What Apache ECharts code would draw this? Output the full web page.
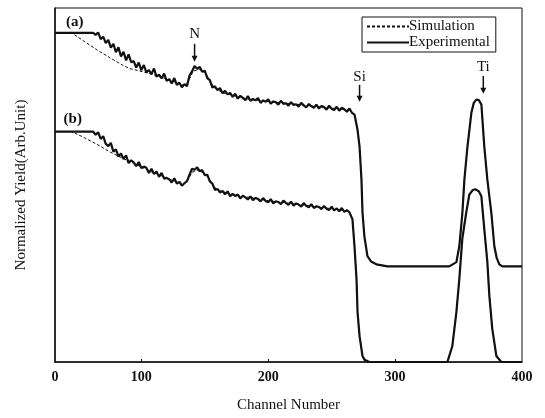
<!DOCTYPE html>
<html>
<head>
<meta charset="utf-8">
<script src="https://cdn.jsdelivr.net/npm/echarts@6/dist/echarts.min.js"></script>
<style>
  html, body { margin: 0; padding: 0; background: #fff; }
  #main { width: 545px; height: 418px; }
</style>
</head>
<body>
<div id="main"></div>
<script>
// channel numbers of the noisy part of the spectra
var expChannels = [62,64,66,68,70,72,74,76,78,80,82,84,86,88,90,92,94,96,98,100,
  102,104,106,108,110,112,114,116,118,120,122,124,126,128,130,132,134,136,138,140,
  142,144,146,148,150,152,154,156,158,160,162,164,166,168,170,172,174,176,178,180,
  182,184,186,188,190,192,194,196,198,200,202,204,206,208,210,212,214,216,218,220,
  222,224,226,228,230,232,234,236,238,240,242,244,246,248,250,252,254,256,258,260,
  262,264];

// (a) experimental, noisy part
var expAValues = [93.0,92.4,93.1,91.2,91.9,90.1,91.0,88.8,89.9,87.5,88.9,86.3,87.6,85.2,86.9,84.7,85.0,83.2,84.6,82.4,
  83.9,81.8,82.5,81.3,82.9,80.6,81.2,80.1,81.5,79.4,79.9,78.7,80.2,78.3,78.9,77.6,78.5,77.9,80.9,82.1,
  83.6,82.8,83.4,82.0,82.3,80.2,79.6,77.5,77.9,76.8,77.4,75.9,76.6,75.6,76.0,74.9,75.8,74.4,75.2,74.6,
  74.0,75.1,73.8,74.3,73.9,74.6,73.2,73.9,73.5,74.2,73.0,73.6,73.4,72.7,73.8,72.9,73.1,72.4,73.4,72.6,
  72.8,72.1,73.2,72.5,71.9,72.9,72.2,71.8,72.7,71.6,72.3,72.0,71.3,72.4,71.5,71.2,72.1,71.0,71.8,71.4,
  70.7,71.6];

// (b) experimental, noisy part
var expBValues = [65.1,64.2,64.9,63.0,63.8,61.6,61.0,61.9,59.4,60.1,58.0,58.9,57.3,58.4,56.2,57.0,56.4,55.3,56.5,54.8,
  55.2,54.9,53.4,54.6,53.1,53.8,52.3,53.4,51.8,52.0,51.6,50.7,51.9,50.4,50.9,49.8,50.5,51.1,52.9,54.6,
  54.3,55.0,53.9,54.2,52.8,52.9,51.0,50.4,48.6,48.9,47.9,48.3,47.4,48.2,46.8,47.5,46.9,47.3,46.2,47.0,
  46.5,45.9,46.8,45.7,46.4,46.0,45.4,46.3,45.5,45.1,46.0,44.8,45.4,45.2,44.6,45.6,44.9,44.4,45.3,44.2,
  44.8,44.5,43.9,44.9,44.1,43.7,44.6,43.5,44.0,43.8,43.2,44.1,43.3,42.9,43.9,42.8,43.4,42.6,43.5,42.4,
  42.9,42.3];

// Si edge + Ti peak, shared by simulation and experiment
var tailA = [[266,70.4],[268,69.9],[270.4,65.6],[272,60.8],[273.5,51.5],[274.3,42.3],[275.8,35.5],
  [278.2,29.9],[281,28.4],[285.3,27.6],[294,27.0],[342.7,27.0],[348.3,28.2],[350.6,32.7],[353,42.0],
  [354.6,51.5],[357,60.8],[360.1,70.4],[362,73.2],[364,74.1],[366,74.0],[368,72.7],[370.3,60.8],
  [372.7,51.5],[375.8,42.3],[378.2,32.7],[380,29.5],[382.1,27.6],[384.5,27.0],[400,27.0]];
var tailB = [[266.4,40.3],[268,32.7],[269.6,23.4],[270.4,14.1],[272,7.3],[274.3,1.7],[276,0.6],
  [279.7,0],[341.2,0],[345.1,4.5],[348.3,14.1],[350.6,23.4],[353,34.9],[356.1,42.3],[358.5,47.3],
  [361,48.5],[363.2,48.8],[366,48.2],[368,46.8],[370.3,37.5],[372.7,28.2],[374.3,18.6],[376.6,9.3],
  [379.8,1.7],[383.7,0],[400,0]];

// simulation, smooth part
var simAHead = [[32,93],[45,93],[55,90.6],[65,88.2],[75,86.0],[85,83.9],[91,82.9],[101,82.0],
  [112,80.9],[122,79.7],[132,78.4],[135,78.2],[138,80.0],[141,82.2],[146,82.6],[150,81.8],
  [154,79.8],[157,77.6],[164,76.1],[175,75.0],[185,74.2],[199,73.6],[209,73.3],[225,72.7],
  [240,72.1],[256,71.5],[264,71.0]];
var simBHead = [[32,65.1],[45,65.1],[55,63.4],[65,61.5],[75,59.4],[85,57.6],[95,56.0],[106,54.0],
  [112,53.2],[120,52.0],[130,50.6],[134,50.4],[137,51.6],[140,53.6],[144,54.2],[148,53.6],
  [152,52.4],[155,50.9],[159,48.8],[170,47.4],[185,46.5],[201,45.5],[209,45.2],[217,44.8],
  [235,44.0],[250,43.3],[262,42.6],[264,42.4]];

var xTicks = [100, 200, 300];
var xLabels = [32, 100, 200, 300, 400];

function zipExp(start, vals, tail) {
  var out = [start];
  for (var i = 0; i < vals.length; i++) out.push([expChannels[i], vals[i]]);
  return out.concat(tail);
}

var expA = zipExp([32, 93.0], expAValues, tailA);
var expB = zipExp([32, 65.1], expBValues, tailB);
var simA = simAHead.concat(tailA);
var simB = simBHead.concat(tailB);

var serif = "Liberation Serif";
var ink = "#111";

var myChart = echarts.init(document.getElementById("main"));

var option = {
  animation: false,
  grid: { left: 55, right: 23, top: 8, bottom: 55, show: true, borderColor: ink, borderWidth: 1 },
  legend: {
    orient: "vertical",
    left: 362, top: 17,
    padding: [2, 6, 2, 4],
    itemGap: 1,
    itemWidth: 42,
    itemHeight: 13,
    borderColor: ink,
    borderWidth: 1,
    itemStyle: { opacity: 0 },
    textStyle: { fontFamily: serif, fontSize: 15, color: ink, padding: [0, 0, 0, -5] },
    data: ["Simulation", "Experimental"]
  },
  xAxis: {
    type: "value",
    min: 32, max: 400,
    name: "Channel Number",
    nameLocation: "middle",
    nameGap: 36,
    nameTextStyle: { fontFamily: serif, fontSize: 15, color: ink },
    axisLine: { lineStyle: { color: ink, width: 1.5 } },
    axisTick: { inside: true, length: 3, customValues: xTicks, lineStyle: { color: ink } },
    axisLabel: {
      customValues: xLabels,
      fontFamily: serif, fontSize: 14, fontWeight: "bold", color: ink, margin: 8,
      formatter: function (v) { return v === 32 ? "0" : String(v); }
    },
    splitLine: { show: false }
  },
  yAxis: {
    type: "value",
    min: 0, max: 100,
    name: "Normalized Yield(Arb.Unit)",
    nameLocation: "middle",
    nameRotate: 90,
    nameGap: 26,
    nameTextStyle: { fontFamily: serif, fontSize: 15, color: ink },
    axisLine: { show: true, lineStyle: { color: ink, width: 1.5 } },
    axisTick: { show: false },
    axisLabel: { show: false },
    splitLine: { show: false }
  },
  series: [
    { name: "Simulation", type: "line", data: simA, symbol: "none",
      lineStyle: { color: ink, width: 1, type: [3, 2] }, itemStyle: { color: ink } },
    { name: "Simulation", type: "line", data: simB, symbol: "none",
      lineStyle: { color: ink, width: 1, type: [3, 2] }, itemStyle: { color: ink } },
    { name: "Experimental", type: "line", data: expA, symbol: "none",
      lineStyle: { color: ink, width: 2.2 }, itemStyle: { color: ink } },
    { name: "Experimental", type: "line", data: expB, symbol: "none",
      lineStyle: { color: ink, width: 2.2 }, itemStyle: { color: ink } }
  ]
};

myChart.setOption(option);

// labels and arrows, placed in data coordinates
var notes = [
  { text: "(a)", at: [47.5, 96.1], bold: true },
  { text: "(b)", at: [46, 68.5], bold: true },
  { text: "N", at: [142, 92.7], from: [142, 89.9], to: [142, 84.8] },
  { text: "Si", at: [272, 80.6], from: [272, 78.3], to: [272, 73.5] },
  { text: "Ti", at: [369.5, 83.4], from: [369.5, 80.8], to: [369.5, 75.8] }
];

var graphics = [];
notes.forEach(function (n) {
  var p = myChart.convertToPixel({ gridIndex: 0 }, n.at);
  graphics.push({
    type: "text", x: p[0], y: p[1],
    style: { text: n.text, font: (n.bold ? "bold " : "") + "15px " + serif, fill: ink, align: "center", verticalAlign: "middle" }
  });
  if (n.from) {
    var a = myChart.convertToPixel({ gridIndex: 0 }, n.from);
    var b = myChart.convertToPixel({ gridIndex: 0 }, n.to);
    graphics.push({
      type: "line", shape: { x1: a[0], y1: a[1], x2: b[0], y2: b[1] - 4 },
      style: { stroke: ink, lineWidth: 1.5 }
    });
    graphics.push({
      type: "polygon",
      shape: { points: [[b[0] - 3, b[1] - 6], [b[0] + 3, b[1] - 6], [b[0], b[1]]] },
      style: { fill: ink }
    });
  }
});
myChart.setOption({ graphic: graphics });
</script>
</body>
</html>
